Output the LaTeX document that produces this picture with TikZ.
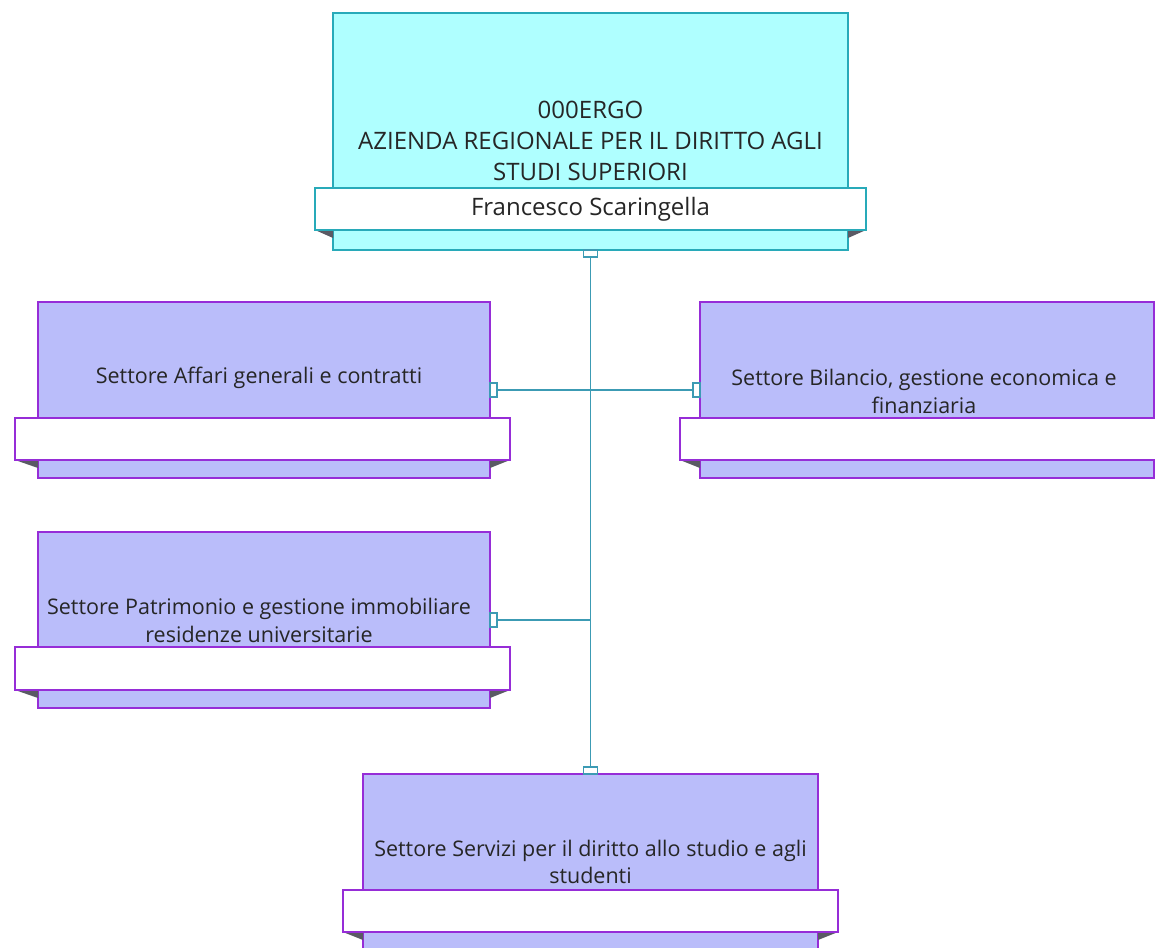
\documentclass[tikz,border=0pt]{standalone}
\usepackage{fontspec}
\setmainfont{Open Sans}
\definecolor{cyanfill}{RGB}{175,255,255}
\definecolor{tealline}{RGB}{40,170,185}
\definecolor{lilac}{RGB}{186,189,250}
\definecolor{purpleline}{RGB}{150,45,215}
\definecolor{conn}{RGB}{60,155,180}
\definecolor{foldgray}{RGB}{90,90,100}
\tikzset{
  topbox/.style={draw=tealline, fill=cyanfill, line width=1.3pt, inner sep=0pt, outer sep=0pt, anchor=north west},
  unitbox/.style={draw=purpleline, fill=lilac, line width=1.3pt, inner sep=0pt, outer sep=0pt, anchor=north west},
  ribbonT/.style={draw=tealline, fill=white, line width=1.3pt, inner sep=0pt, outer sep=0pt, anchor=north west},
  ribbonU/.style={draw=purpleline, fill=white, line width=1.3pt, inner sep=0pt, outer sep=0pt, anchor=north west},
  lbltop/.style={align=center, font=\fontsize{24}{31}\selectfont, text=black!85, inner sep=0pt},
  lbl/.style={align=center, font=\fontsize{21.5}{27.5}\selectfont, text=black!85, inner sep=0pt},
  sqv/.style={draw=conn, fill=white, line width=1.1pt, minimum width=7pt, minimum height=14pt, inner sep=0pt, outer sep=0pt},
  sqh/.style={draw=conn, fill=white, line width=1.1pt, minimum width=14pt, minimum height=7pt, inner sep=0pt, outer sep=0pt},
  link/.style={draw=conn, line width=1.3pt},
  fold/.style={fill=foldgray, draw=none}
}
\begin{document}
\begin{tikzpicture}[x=1pt,y=-1pt]
\useasboundingbox (0,0) rectangle (1155,947);
\clip (0,0) rectangle (1155,947);
% top box
\node[topbox, minimum width=515pt, minimum height=237pt] (top) at (333,13) {};
\fill[fold] (315,230) -- (333,230) -- (333,238) -- cycle;
\fill[fold] (866,230) -- (848,230) -- (848,238) -- cycle;
\node[ribbonT, minimum width=551pt, minimum height=42pt] (topr) at (315,188) {};
\node[lbltop] (toptxt) at (590.5,141) {000ERGO\\AZIENDA REGIONALE PER IL DIRITTO AGLI\\STUDI SUPERIORI};
\node[lbltop] (topname) at (topr.center) {Francesco Scaringella};
% Affari
\node[unitbox, minimum width=452pt, minimum height=176pt] (aff) at (38,302) {};
\fill[fold] (15,460) -- (38,460) -- (38,468) -- cycle;
\fill[fold] (510,460) -- (490,460) -- (490,468) -- cycle;
\node[ribbonU, minimum width=495pt, minimum height=42pt] (affr) at (15,418) {};
\node[lbl] (afftxt) at (259,378) {Settore Affari generali e contratti};
% Bilancio
\node[unitbox, minimum width=454pt, minimum height=176pt] (bil) at (700,302) {};
\fill[fold] (680,460) -- (700,460) -- (700,468) -- cycle;
\node[ribbonU, minimum width=500pt, minimum height=42pt] (bilr) at (680,418) {};
\node[lbl] (biltxt) at (924,391.5) {Settore Bilancio, gestione economica e\\finanziaria};
% Patrimonio
\node[unitbox, minimum width=452pt, minimum height=176pt] (pat) at (38,532) {};
\fill[fold] (15,690) -- (38,690) -- (38,698) -- cycle;
\fill[fold] (510,690) -- (490,690) -- (490,698) -- cycle;
\node[ribbonU, minimum width=495pt, minimum height=43pt] (patr) at (15,647) {};
\node[lbl] (pattxt) at (259,620.5) {Settore Patrimonio e gestione immobiliare\\residenze universitarie};
% Servizi
\node[unitbox, minimum width=455pt, minimum height=190pt] (ser) at (363,774) {};
\fill[fold] (343,932) -- (363,932) -- (363,940) -- cycle;
\fill[fold] (838,932) -- (818,932) -- (818,940) -- cycle;
\node[ribbonU, minimum width=495pt, minimum height=42pt] (serr) at (343,890) {};
\node[lbl] (sertxt) at (590.5,862) {Settore Servizi per il diritto allo studio e agli\\studenti};
% connector squares
\node[sqh, anchor=north] (topsq) at (top.south) {};
\node[sqh, anchor=south] (sersq) at (ser.north) {};
\node[sqv, anchor=west] (affsq) at (aff.east) {};
\node[sqv, anchor=east] (bilsq) at (bil.west) {};
\node[sqv, anchor=west] (patsq) at (pat.east) {};
% connectors
\draw[link] (topsq.south) -- (sersq.north);
\draw[link] (affsq.east) -- (bilsq.west);
\draw[link] (patsq.east) -- (patsq.east -| topsq.south);
\end{tikzpicture}
\end{document}
